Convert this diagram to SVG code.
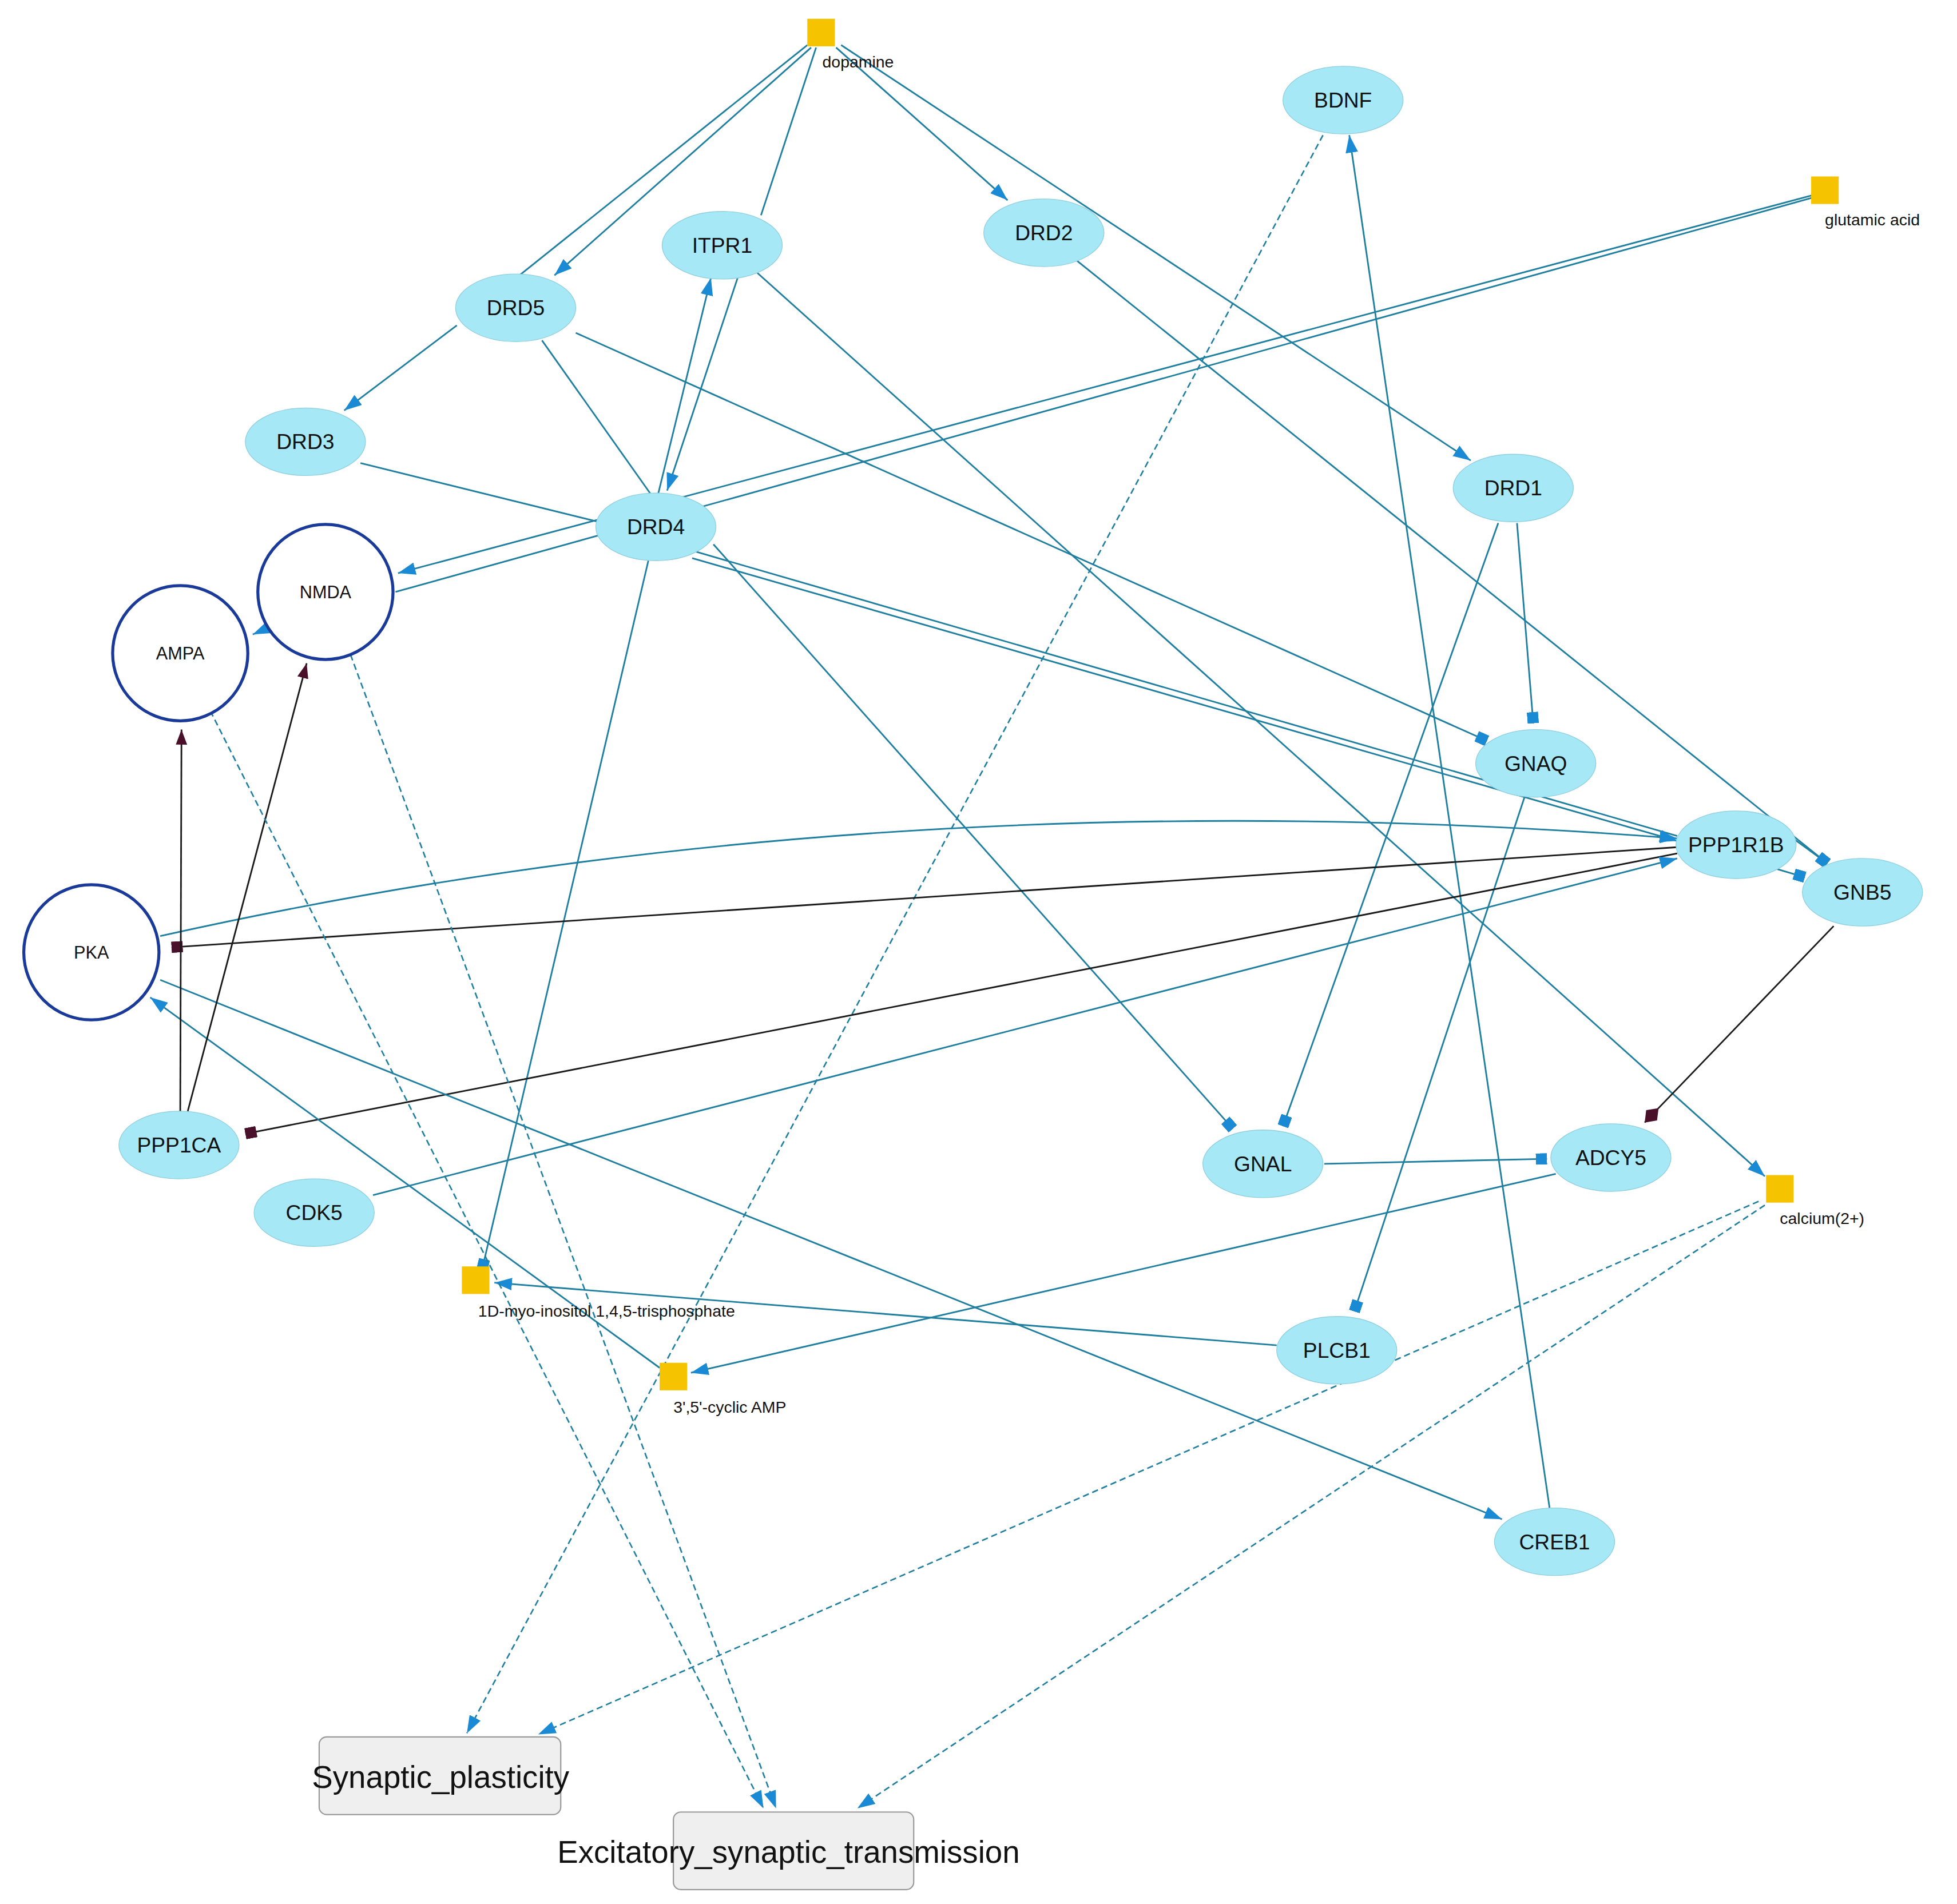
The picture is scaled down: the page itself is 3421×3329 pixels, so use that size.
<svg xmlns="http://www.w3.org/2000/svg" width="3421" height="3329" viewBox="0 0 3421 3329">
<style>
.e{stroke:#1f7fa0;stroke-width:1.3;fill:none}
.d{stroke:#1f7fa0;stroke-width:1.2;fill:none;stroke-dasharray:5,3}
.k{stroke:#1a1a1a;stroke-width:1.3;fill:none}
.ell{fill:#a6e8f5;stroke:#8fd0e0;stroke-width:0.6}
.cir{fill:#fff;stroke:#1a3a9a;stroke-width:2.4}
.sq{fill:#f6c300}
.t{font-family:"Liberation Sans",Arial,sans-serif;font-size:17px;fill:#111;text-anchor:middle;dominant-baseline:central}
.tc{font-family:"Liberation Sans",Arial,sans-serif;font-size:14px;fill:#111;text-anchor:middle;dominant-baseline:central}
.ts{font-family:"Liberation Sans",Arial,sans-serif;font-size:13px;fill:#111}
.tb{font-family:"Liberation Sans",Arial,sans-serif;font-size:25px;fill:#111;text-anchor:middle;dominant-baseline:central}
.box{fill:#efefef;stroke:#999;stroke-width:1}
</style>
<defs>
<marker id="a" markerUnits="userSpaceOnUse" viewBox="0 0 14 10" refX="14" refY="5" markerWidth="14" markerHeight="10" orient="auto"><path d="M0,0L14,5L0,10z" fill="#1a8ad4"/></marker>
<marker id="s" markerUnits="userSpaceOnUse" viewBox="0 0 9 9" refX="9" refY="4.5" markerWidth="9" markerHeight="9" orient="auto"><rect width="9" height="9" fill="#1a8ad4"/></marker>
<marker id="ks" markerUnits="userSpaceOnUse" viewBox="0 0 9 9" refX="9" refY="4.5" markerWidth="9" markerHeight="9" orient="auto"><rect width="9" height="9" fill="#4a0f2a"/></marker>
<marker id="kd" markerUnits="userSpaceOnUse" viewBox="0 0 16 16" refX="16" refY="8" markerWidth="16" markerHeight="16" orient="auto"><path d="M0,8L8,2L16,8L8,14z" fill="#4a0f2a"/></marker>
<marker id="ka" markerUnits="userSpaceOnUse" viewBox="0 0 12 9" refX="12" refY="4.5" markerWidth="12" markerHeight="9" orient="auto"><path d="M0,0L12,4.5L0,9z" fill="#4a0f2a"/></marker>
</defs>
<rect width="3421" height="3329" fill="#fff"/>
<g transform="scale(2.188)">
<g id="connectors">
<line class="e" x1="645" y1="36" x2="415" y2="220"/>
<line class="e" x1="648" y1="38" x2="443" y2="220" marker-end="url(#a)"/>
<line class="e" x1="652" y1="38" x2="608" y2="172"/>
<line class="e" x1="590" y1="220" x2="533" y2="392" marker-end="url(#a)"/>
<line class="e" x1="526" y1="394" x2="568" y2="222" marker-end="url(#a)"/>
<line class="e" x1="668" y1="38" x2="805" y2="160" marker-end="url(#a)"/>
<line class="e" x1="672" y1="36" x2="1175" y2="368" marker-end="url(#a)"/>
<line class="e" x1="605" y1="218" x2="1410" y2="940" marker-end="url(#a)"/>
<line class="e" x1="860" y1="208" x2="1460" y2="690" marker-end="url(#s)"/>
<line class="e" x1="365" y1="260" x2="275" y2="328" marker-end="url(#a)"/>
<line class="e" x1="460" y1="266" x2="1188" y2="592" marker-end="url(#s)"/>
<line class="e" x1="433" y1="272" x2="520" y2="395"/>
<line class="e" x1="288" y1="370" x2="490" y2="420"/>
<line class="e" x1="1448" y1="156" x2="318" y2="458" marker-end="url(#a)"/>
<line class="e" x1="1448" y1="158" x2="316" y2="473"/>
<line class="e" x1="553" y1="440" x2="1340" y2="668"/>
<line class="e" x1="553" y1="446" x2="1340" y2="672" marker-end="url(#a)"/>
<line class="e" x1="570" y1="435" x2="985" y2="902" marker-end="url(#s)"/>
<line class="e" x1="518" y1="448" x2="385" y2="1015" marker-end="url(#s)"/>
<line class="e" x1="1212" y1="418" x2="1225" y2="578" marker-end="url(#s)"/>
<line class="e" x1="1197" y1="418" x2="1025" y2="900" marker-end="url(#s)"/>
<line class="e" x1="1218" y1="637" x2="1082" y2="1048" marker-end="url(#s)"/>
<line class="e" x1="1238" y1="1205" x2="1078" y2="108" marker-end="url(#a)"/>
<line class="d" x1="1057" y1="108" x2="373" y2="1385" marker-end="url(#a)"/>
<path class="e" d="M128,748 Q700,620 1340,670" marker-end="url(#a)"/>
<line class="k" x1="1340" y1="677" x2="137" y2="757" marker-end="url(#ks)"/>
<line class="k" x1="1340" y1="682" x2="196" y2="906" marker-end="url(#ks)"/>
<line class="e" x1="298" y1="955" x2="1340" y2="686" marker-end="url(#a)"/>
<line class="e" x1="1412" y1="655" x2="1460" y2="690" marker-end="url(#s)"/>
<line class="e" x1="1418" y1="694" x2="1442" y2="701" marker-end="url(#s)"/>
<line class="k" x1="1465" y1="740" x2="1314" y2="897" marker-end="url(#kd)"/>
<line class="e" x1="1058" y1="930" x2="1236" y2="926" marker-end="url(#s)"/>
<line class="e" x1="1243" y1="938" x2="552" y2="1097" marker-end="url(#a)"/>
<line class="e" x1="1020" y1="1075" x2="395" y2="1025" marker-end="url(#a)"/>
<line class="e" x1="527" y1="1093" x2="120" y2="797" marker-end="url(#a)"/>
<line class="e" x1="128" y1="783" x2="1200" y2="1214" marker-end="url(#a)"/>
<line class="k" x1="144" y1="890" x2="145" y2="583" marker-end="url(#ka)"/>
<line class="k" x1="150" y1="888" x2="245" y2="530" marker-end="url(#ka)"/>
<line class="e" x1="218" y1="500" x2="202" y2="507" marker-end="url(#a)"/>
<line class="d" x1="168" y1="568" x2="610" y2="1445" marker-end="url(#a)"/>
<line class="d" x1="280" y1="523" x2="620" y2="1445" marker-end="url(#a)"/>
<line class="d" x1="1405" y1="960" x2="430" y2="1386" marker-end="url(#a)"/>
<line class="d" x1="1410" y1="963" x2="685" y2="1445" marker-end="url(#a)"/>
</g>
<g id="dopamine"><rect class="sq" x="645" y="15" width="22" height="22"/><text class="ts" x="657" y="54">dopamine</text></g>
<g id="glutamic"><rect class="sq" x="1447" y="141" width="22" height="22"/><text class="ts" x="1458" y="180">glutamic acid</text></g>
<g id="calcium"><rect class="sq" x="1411" y="939" width="22" height="22"/><text class="ts" x="1422" y="978">calcium(2+)</text></g>
<g id="ip3"><rect class="sq" x="369" y="1012" width="22" height="22"/><text class="ts" x="382" y="1052">1D-myo-inositol 1,4,5-trisphosphate</text></g>
<g id="camp"><rect class="sq" x="527" y="1089" width="22" height="22"/><text class="ts" x="538" y="1129">3',5'-cyclic AMP</text></g>
<g id="BDNF"><ellipse class="ell" cx="1073" cy="80" rx="48" ry="27"/><text class="t" x="1073" y="80">BDNF</text></g>
<g id="ITPR1"><ellipse class="ell" cx="577" cy="196" rx="48" ry="27"/><text class="t" x="577" y="196">ITPR1</text></g>
<g id="DRD2"><ellipse class="ell" cx="834" cy="186" rx="48" ry="27"/><text class="t" x="834" y="186">DRD2</text></g>
<g id="DRD5"><ellipse class="ell" cx="412" cy="246" rx="48" ry="27"/><text class="t" x="412" y="246">DRD5</text></g>
<g id="DRD3"><ellipse class="ell" cx="244" cy="353" rx="48" ry="27"/><text class="t" x="244" y="353">DRD3</text></g>
<g id="DRD1"><ellipse class="ell" cx="1209" cy="390" rx="48" ry="27"/><text class="t" x="1209" y="390">DRD1</text></g>
<g id="DRD4"><ellipse class="ell" cx="524" cy="421" rx="48" ry="27"/><text class="t" x="524" y="421">DRD4</text></g>
<g id="GNAQ"><ellipse class="ell" cx="1227" cy="610" rx="48" ry="27"/><text class="t" x="1227" y="610">GNAQ</text></g>
<g id="PPP1R1B"><ellipse class="ell" cx="1387" cy="675" rx="48" ry="27"/><text class="t" x="1387" y="675">PPP1R1B</text></g>
<g id="GNB5"><ellipse class="ell" cx="1488" cy="713" rx="48" ry="27"/><text class="t" x="1488" y="713">GNB5</text></g>
<g id="PPP1CA"><ellipse class="ell" cx="143" cy="915" rx="48" ry="27"/><text class="t" x="143" y="915">PPP1CA</text></g>
<g id="CDK5"><ellipse class="ell" cx="251" cy="969" rx="48" ry="27"/><text class="t" x="251" y="969">CDK5</text></g>
<g id="GNAL"><ellipse class="ell" cx="1009" cy="930" rx="48" ry="27"/><text class="t" x="1009" y="930">GNAL</text></g>
<g id="ADCY5"><ellipse class="ell" cx="1287" cy="925" rx="48" ry="27"/><text class="t" x="1287" y="925">ADCY5</text></g>
<g id="PLCB1"><ellipse class="ell" cx="1068" cy="1079" rx="48" ry="27"/><text class="t" x="1068" y="1079">PLCB1</text></g>
<g id="CREB1"><ellipse class="ell" cx="1242" cy="1232" rx="48" ry="27"/><text class="t" x="1242" y="1232">CREB1</text></g>
<g id="NMDA"><circle class="cir" cx="260" cy="473" r="54"/><text class="tc" x="260" y="473">NMDA</text></g>
<g id="AMPA"><circle class="cir" cx="144" cy="522" r="54"/><text class="tc" x="144" y="522">AMPA</text></g>
<g id="PKA"><circle class="cir" cx="73" cy="761" r="54"/><text class="tc" x="73" y="761">PKA</text></g>
<g id="synaptic"><rect class="box" x="255" y="1388" width="193" height="62" rx="6"/><text class="tb" x="352" y="1420">Synaptic_plasticity</text></g>
<g id="excitatory"><rect class="box" x="538" y="1448" width="192" height="62" rx="6"/><text class="tb" x="630" y="1480">Excitatory_synaptic_transmission</text></g>
</g>
</svg>
